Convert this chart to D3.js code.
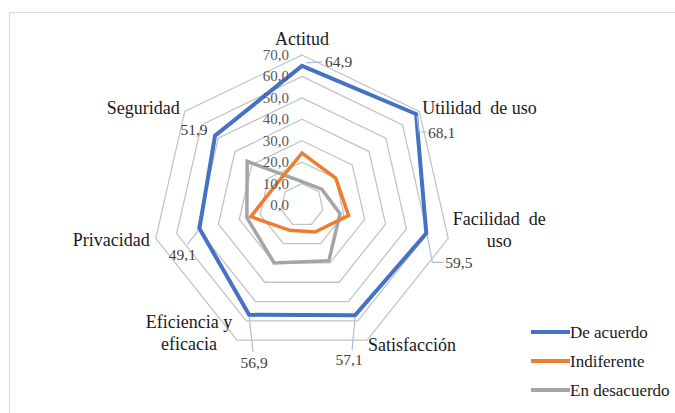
<!DOCTYPE html>
<html>
<head>
<meta charset="utf-8">
<script src="https://cdn.jsdelivr.net/npm/d3@7/dist/d3.min.js"></script>
<style>
  html, body { margin: 0; padding: 0; background: #ffffff; }
  #chart { position: relative; width: 675px; height: 413px; overflow: hidden; }
  #chart svg { position: absolute; left: 0; top: 0; display: block; }
  .lbl { position: absolute; white-space: pre; line-height: 1; }
</style>
</head>
<body>
<div id="chart"></div>
<script>
// Survey dimensions (clockwise from the top)
const categories = ["Actitud", "Utilidad de uso", "Facilidad de uso", "Satisfacción",
                    "Eficiencia y eficacia", "Privacidad", "Seguridad"];
// Percentage of answers per dimension
const deAcuerdo    = [64.9, 68.1, 59.5, 57.1, 56.9, 49.1, 51.9];
const indiferente  = [24.2, 20.1, 22.3, 14.0, 13.1, 24.5, 15.4];
const enDesacuerdo = [10.9, 11.8, 18.2, 28.9, 30.0, 26.4, 32.7];
const seriesNames  = ["De acuerdo", "Indiferente", "En desacuerdo"];
const tickValues   = [0, 10, 20, 30, 40, 50, 60, 70];

const W = 675, H = 413;
const cx = 302, cy = 205, R = 150;
const colors = ["#4472C4", "#ED7D31", "#A5A5A5"];
const widths = [4, 3.5, 3.5];
const SERIF = "'Liberation Serif', Tinos, 'Times New Roman', monospace";

const root = d3.select("#chart");
const svg = root.append("svg").attr("width", W).attr("height", H);

// text layer drawn above the svg
const shift = { start: "0", middle: "-50%", end: "-100%" };
function label(x, y, txt, anchor, size, color) {
  const el = document.createElement("div");
  el.className = "lbl";
  el.style.fontFamily = SERIF;
  el.style.left = x + "px";
  el.style.top = y + "px";
  el.style.fontSize = size + "px";
  el.style.color = color;
  el.style.transform = `translate(${shift[anchor]}, -50%)`;
  el.textContent = txt;
  root.node().appendChild(el);
}

// chart area frame
svg.append("rect")
  .attr("x", 9.5).attr("y", 12.5).attr("width", 700).attr("height", 420)
  .attr("fill", "#ffffff").attr("stroke", "#d9d9d9").attr("stroke-width", 1);

const r = d3.scaleLinear().domain([0, 70]).range([0, R]);
const angle = d3.scalePoint().domain(categories).range([0, 2 * Math.PI * 6 / 7]);

const pt = (cat, v) => {
  const a = angle(cat);
  return [cx + r(v) * Math.sin(a), cy - r(v) * Math.cos(a)];
};

const g = svg.append("g");

// concentric heptagon grid
const ringLine = d3.line();
tickValues.filter(t => t > 0).forEach(t => {
  const pts = categories.map(c => pt(c, t));
  g.append("path")
    .attr("d", ringLine(pts) + "Z")
    .attr("fill", "none").attr("stroke", "#c4c4c4").attr("stroke-width", 1.3);
});

// radial axis labels
const fmt = v => d3.format(".1f")(v).replace(".", ",");
tickValues.forEach(t => label(cx - 13, cy - r(t), fmt(t), "end", 15, "#595959"));

// series polygons
const allSeries = [deAcuerdo, indiferente, enDesacuerdo];
const order = [2, 1, 0];
order.forEach(i => {
  const pts = categories.map((c, j) => pt(c, allSeries[i][j]));
  g.append("path")
    .attr("d", ringLine(pts) + "Z")
    .attr("fill", "none")
    .attr("stroke", colors[i])
    .attr("stroke-width", widths[i])
    .attr("stroke-linejoin", "miter");
});

// category labels: [anchor, dx, dy] relative to the outer vertex
const catLayout = [
  ["middle", 0, -16],
  ["start", 3, -3],
  ["middle", 51, -8],
  ["start", 1, 5],
  ["middle", -48, -7],
  ["end", -6, 2],
  ["end", -5, -3]
];
const catLines = [
  ["Actitud"], ["Utilidad  de uso"], ["Facilidad  de", "uso"], ["Satisfacción"],
  ["Eficiencia y", "eficacia"], ["Privacidad"], ["Seguridad"]
];
categories.forEach((c, i) => {
  const [vx, vy] = pt(c, 70);
  const [anchor, dx, dy] = catLayout[i];
  const lines = catLines[i];
  lines.forEach((ln, k) => {
    label(vx + dx, vy + dy + (k - (lines.length - 1) / 2) * 22, ln, anchor, 18, "#1a1a1a");
  });
});

// value labels for the "De acuerdo" series with leader lines
// [anchor, dx, dy] of the label relative to its point
const valLayout = [
  ["start", 23, -4],
  ["start", 12, 19],
  ["start", 19, 30],
  ["middle", -6, 45],
  ["middle", 5, 48],
  ["middle", -17, 27],
  ["middle", -21, -6]
];
const leaders = [
  d => [[d[0] + 4, d[1] - 3], [d[0] + 20, d[1] - 4]],
  d => [[d[0] + 1, d[1] + 2], [d[0] + 3, d[1] + 18], [d[0] + 10, d[1] + 18]],
  d => [[d[0] + 1, d[1] + 2], [d[0] + 6, d[1] + 29], [d[0] + 17, d[1] + 29]],
  d => [[d[0], d[1] + 2], [d[0] - 3, d[1] + 35]],
  d => [[d[0], d[1] + 2], [d[0] + 4, d[1] + 37]],
  d => [[d[0] - 1, d[1] + 2], [d[0] - 12, d[1] + 16]],
  null
];
categories.forEach((c, i) => {
  const p = pt(c, deAcuerdo[i]);
  const [anchor, dx, dy] = valLayout[i];
  if (leaders[i]) {
    svg.append("path")
      .attr("d", d3.line()(leaders[i](p)))
      .attr("fill", "none").attr("stroke", "#a9bfdc").attr("stroke-width", 1.2);
  }
  label(p[0] + dx, p[1] + dy, fmt(deAcuerdo[i]), anchor, 15.5, "#404040");
});

// legend
seriesNames.forEach((name, i) => {
  const y = 332 + i * 29;
  svg.append("line")
    .attr("x1", 531).attr("x2", 570).attr("y1", y).attr("y2", y)
    .attr("stroke", colors[i]).attr("stroke-width", 4);
  label(570, y, name, "start", 17, "#1a1a1a");
});
</script>
</body>
</html>
